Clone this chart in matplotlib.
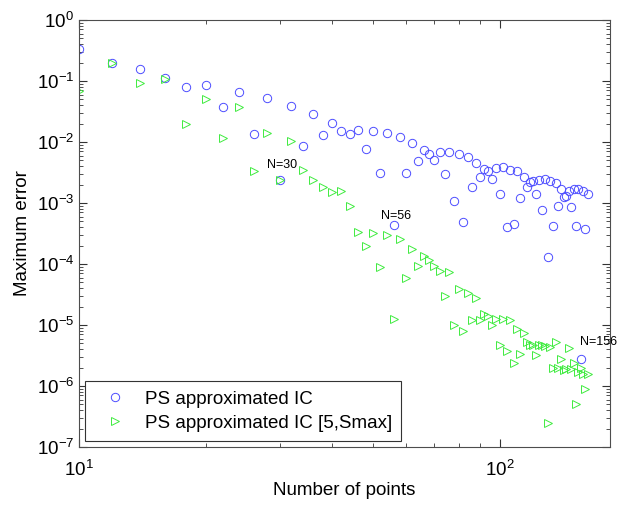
import numpy as np
import matplotlib
matplotlib.use('Agg')
import matplotlib.pyplot as plt
from matplotlib.ticker import LogLocator, NullFormatter

plt.rcParams['font.family'] = ['Liberation Sans', 'DejaVu Sans']
plt.rcParams['mathtext.fontset'] = 'custom'
plt.rcParams['mathtext.rm'] = 'Liberation Sans'
plt.rcParams['mathtext.it'] = 'Liberation Sans:italic'

n_points = [10, 12, 14, 16, 18, 20, 22, 24, 26, 28, 30, 32, 34, 36, 38, 40,
            42, 44, 46, 48, 50, 52, 54, 56, 58, 60, 62, 64, 66, 68, 70, 72,
            74, 76, 78, 80, 82, 84, 86, 88, 90, 92, 94, 96, 98, 100, 102, 104,
            106, 108, 110, 112, 114, 116, 118, 120, 122, 124, 126, 128, 130,
            132, 134, 136, 138, 140, 142, 144, 146, 148, 150, 152, 154, 156,
            158, 160, 162]

# max error, PS approximated initial condition
err_ps = [0.34, 0.195, 0.157, 0.113, 0.080, 0.086, 0.038, 0.067, 0.0137, 0.052,
          0.0024, 0.039, 0.0085, 0.029, 0.013, 0.0205, 0.0153, 0.0135, 0.016,
          0.0077, 0.0153, 0.0031, 0.0139, 0.00044, 0.0121, 0.0031, 0.0098,
          0.0049, 0.0074, 0.0063, 0.0051, 0.0069, 0.0030, 0.0069, 0.00107,
          0.0064, 0.00049, 0.0057, 0.0018, 0.0046, 0.0027, 0.0036, 0.0034,
          0.0025, 0.0037, 0.0014, 0.0039, 0.00041, 0.0035, 0.00046, 0.0033,
          0.0012, 0.0027, 0.0018, 0.0022, 0.0023, 0.0014, 0.0024, 0.00076,
          0.0025, 0.00013, 0.0023, 0.00042, 0.0021, 0.00089, 0.0017, 0.00126,
          0.0013, 0.00155, 0.00087, 0.00168, 0.00042, 0.00168, 2.8e-6, 0.0016,
          0.00038, 0.0014]

# max error, PS approximated IC restricted to [5, Smax]
err_ps_smax = [0.069, 0.195, 0.093, 0.107, 0.020, 0.051, 0.0118, 0.037, 0.0034,
               0.0142, 0.0024, 0.0103, 0.0035, 0.0024, 0.0018, 0.0015, 0.0016,
               0.00089, 0.00033, 0.0002, 0.00032, 9e-5, 0.0003, 1.24e-5,
               0.00026, 6e-5, 0.000178, 9.4e-5, 0.000137, 0.000115, 9.3e-5,
               7.6e-5, 3e-5, 7.4e-5, 1e-5, 3.9e-5, 8e-6, 3.4e-5, 1.2e-5, 2.8e-5,
               1.2e-5, 1.5e-5, 1.4e-5, 1.0e-5, 1.26e-5, 4.7e-6, 1.26e-5, 3.8e-6,
               1.2e-5, 2.4e-6, 8.5e-6, 3.3e-6, 7.3e-6, 5.3e-6, 4.7e-6, 4.7e-6,
               3.2e-6, 4.7e-6, 4.7e-6, 4.6e-6, 2.5e-7, 4.4e-6, 2.0e-6, 5.2e-6,
               2.0e-6, 2.8e-6, 1.8e-6, 1.9e-6, 4.2e-6, 1.9e-6, 2.4e-6, 5e-7,
               1.7e-6, 2.0e-6, 1.6e-6, 9e-7, 1.6e-6]

labelled = [30, 56, 156]
label_offsets = {30: (2, 15), 56: (2, 9), 156: (18, 17)}

fig = plt.figure(figsize=(6.19, 5.07), dpi=100)
ax = fig.add_axes([79 / 619, 1 - 447 / 507, (610 - 79) / 619, (447 - 20) / 507])

ax.loglog(n_points, err_ps, 'o', ls='none', ms=6, mfc='none',
          mec=(0.3, 0.3, 1.0), mew=0.7, label='PS approximated IC')
ax.loglog(n_points, err_ps_smax, '>', ls='none', ms=6, mfc='none',
          mec=(0.25, 0.92, 0.25), mew=0.7, label='PS approximated IC [5,Smax]')

for n in labelled:
    i = n_points.index(n)
    ax.annotate('N=%d' % n, xy=(n, err_ps[i]), xytext=label_offsets[n],
                textcoords='offset pixels', ha='center', va='center',
                fontsize=9)

ax.set_xlim(10, 183)
ax.set_ylim(1e-7, 1e0)
ax.xaxis.set_major_locator(LogLocator(base=10, numticks=10))
ax.yaxis.set_major_locator(LogLocator(base=10, numticks=10))
ax.xaxis.set_minor_locator(LogLocator(base=10, subs=np.arange(2, 10), numticks=20))
ax.yaxis.set_minor_locator(LogLocator(base=10, subs=np.arange(2, 10), numticks=20))
ax.xaxis.set_minor_formatter(NullFormatter())
ax.yaxis.set_minor_formatter(NullFormatter())

ax.tick_params(which='both', direction='in', top=True, right=True,
               colors='0.2', labelcolor='black', labelsize=13.5)
ax.tick_params(which='major', length=6, width=0.8)
ax.tick_params(which='minor', length=3, width=0.6)
ax.tick_params(axis='x', pad=9)
for s in ax.spines.values():
    s.set_color('0.3')
    s.set_linewidth(0.8)

ax.set_xlabel('Number of points', fontsize=13.5, labelpad=2)
ax.set_ylabel('Maximum error', fontsize=13.5)

leg = ax.legend(loc='lower left', fontsize=13.5, fancybox=False,
                edgecolor='0.2', framealpha=1, borderaxespad=0.3,
                handletextpad=0.5, borderpad=0.5, labelspacing=0.38,
                handlelength=2.2)
leg.get_frame().set_linewidth(0.8)

fig.savefig('out.png', dpi=100)
